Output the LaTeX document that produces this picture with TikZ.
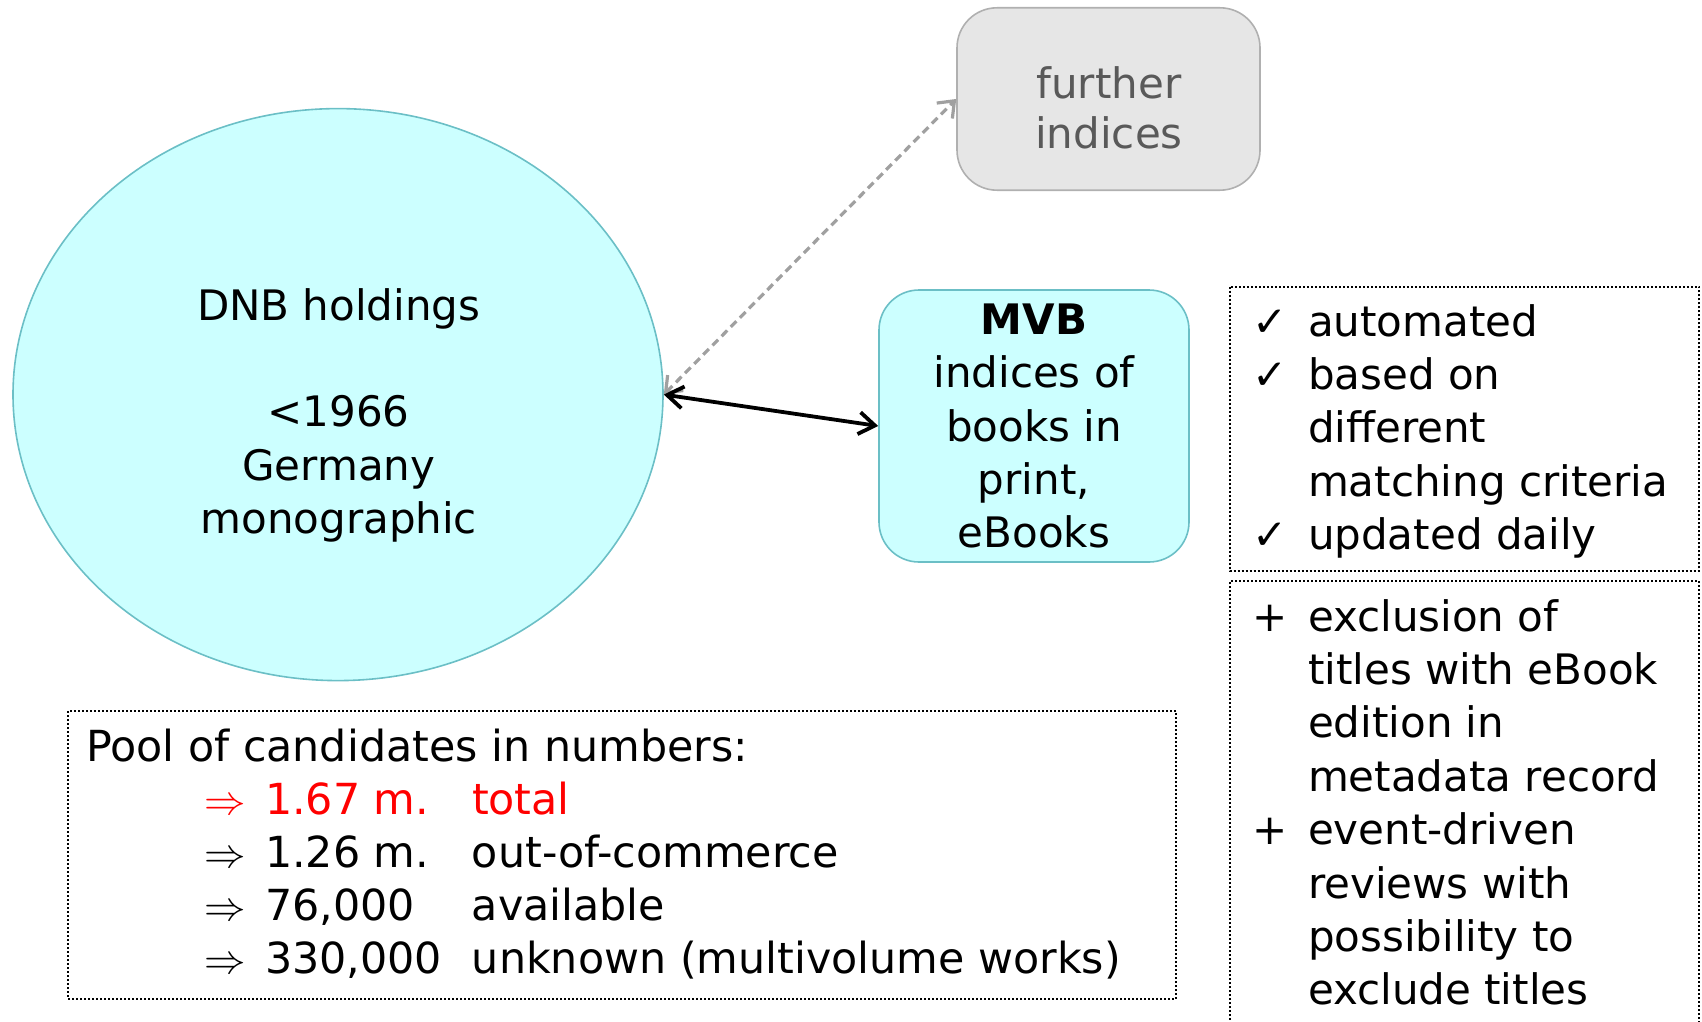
\documentclass[tikz,border=0pt]{standalone}
\usepackage{fontspec}
\setmainfont{DejaVu Sans}
\usetikzlibrary{shapes.geometric,arrows.meta}
\definecolor{cyanfill}{HTML}{CCFFFF}
\definecolor{cyanline}{HTML}{6BBFC6}
\definecolor{greyfill}{HTML}{E6E6E6}
\definecolor{greyline}{HTML}{B0B0B0}
\definecolor{greytext}{HTML}{595959}
\definecolor{dashgrey}{HTML}{A0A0A0}
\definecolor{redtext}{HTML}{FF0000}
\tikzset{
  bigfont/.style={font=\fontsize{21pt}{26.7pt}\selectfont},
  txt/.style={bigfont, inner sep=0pt, outer sep=0pt},
  cyanbox/.style={draw=cyanline, fill=cyanfill, line width=0.8pt},
  greybox/.style={draw=greyline, fill=greyfill, line width=0.8pt, rounded corners=20pt},
  dotbox/.style={draw=black, line width=1pt, dash pattern=on 1pt off 1pt},
  blackarrow/.style={line width=1.9pt, {Straight Barb[length=8pt,width=11pt]}-{Straight Barb[length=8pt,width=11pt]}},
  greyarrow/.style={draw=dashgrey, line width=1.6pt, dash pattern=on 4pt off 2.5pt, {Straight Barb[length=7pt,width=11pt]}-{Straight Barb[length=7pt,width=11pt]}}
}
\begin{document}
\begin{tikzpicture}[x=0.5pt,y=-0.5pt]
\useasboundingbox (0,0) rectangle (1702,1022);

% DNB ellipse
\node[ellipse, cyanbox, minimum width=325pt, minimum height=286pt, inner sep=0pt] (dnb) at (338,394.6) {};
\node[txt, anchor=base] (dnbtext) at (338.7,320) {\begin{tabular}[t]{@{}c@{}}DNB holdings\\ \\ <1966\\ Germany\\ monographic\end{tabular}};

% further indices
\node[greybox, minimum width=151.5pt, minimum height=91.2pt, inner sep=0pt] (further) at (1108.5,99) {};
\node[txt, anchor=base, text=greytext, font=\fontsize{21pt}{25pt}\selectfont] (furthertext) at (1109,98.5) {\begin{tabular}[t]{@{}c@{}}further\\ indices\end{tabular}};

% MVB box
\node[cyanbox, rounded corners=20pt, minimum width=155pt, minimum height=136pt, inner sep=0pt, align=center, bigfont] (mvb) at (1034,426) {\textbf{MVB}\\indices of\\books in\\print,\\eBooks};

% connectors
\draw[greyarrow] (dnb.east) -- (further.west);
\draw[blackarrow] (dnb.east) -- (mvb.west);

% criteria box 1
\draw[dotbox] (1230,286.6) rectangle (1699,571);
\node[txt, anchor=base west] (crit) at (1252,336) {\begin{tabular}[t]{@{}p{28pt}@{}l@{}}
✓ & automated\\
✓ & based on\\
  & different\\
  & matching criteria\\
✓ & updated daily
\end{tabular}};

% criteria box 2
\draw[dotbox] (1230,1040) |- (1699,581) -- (1699,1040);
\node[txt, anchor=base west] (extra) at (1252,631) {\begin{tabular}[t]{@{}p{28pt}@{}l@{}}
+ & exclusion of\\
  & titles with eBook\\
  & edition in\\
  & metadata record\\
+ & event-driven\\
  & reviews with\\
  & possibility to\\
  & exclude titles
\end{tabular}};

% pool box
\draw[dotbox] (68,711) rectangle (1176,999);
\node[txt, anchor=base west, font=\fontsize{21.4pt}{26.6pt}\selectfont] (pool) at (86,761) {\begin{tabular}[t]{@{}p{59pt}@{}p{30.5pt}@{}p{103.5pt}@{}l@{}}
\multicolumn{4}{@{}l@{}}{Pool of candidates in numbers:}\\
 & \textcolor{redtext}{$\Rightarrow$} & \textcolor{redtext}{1.67 m.} & \textcolor{redtext}{total}\\
 & $\Rightarrow$ & 1.26 m. & out-of-commerce\\
 & $\Rightarrow$ & 76,000 & available\\
 & $\Rightarrow$ & 330,000 & unknown (multivolume works)
\end{tabular}};
\end{tikzpicture}
\end{document}
